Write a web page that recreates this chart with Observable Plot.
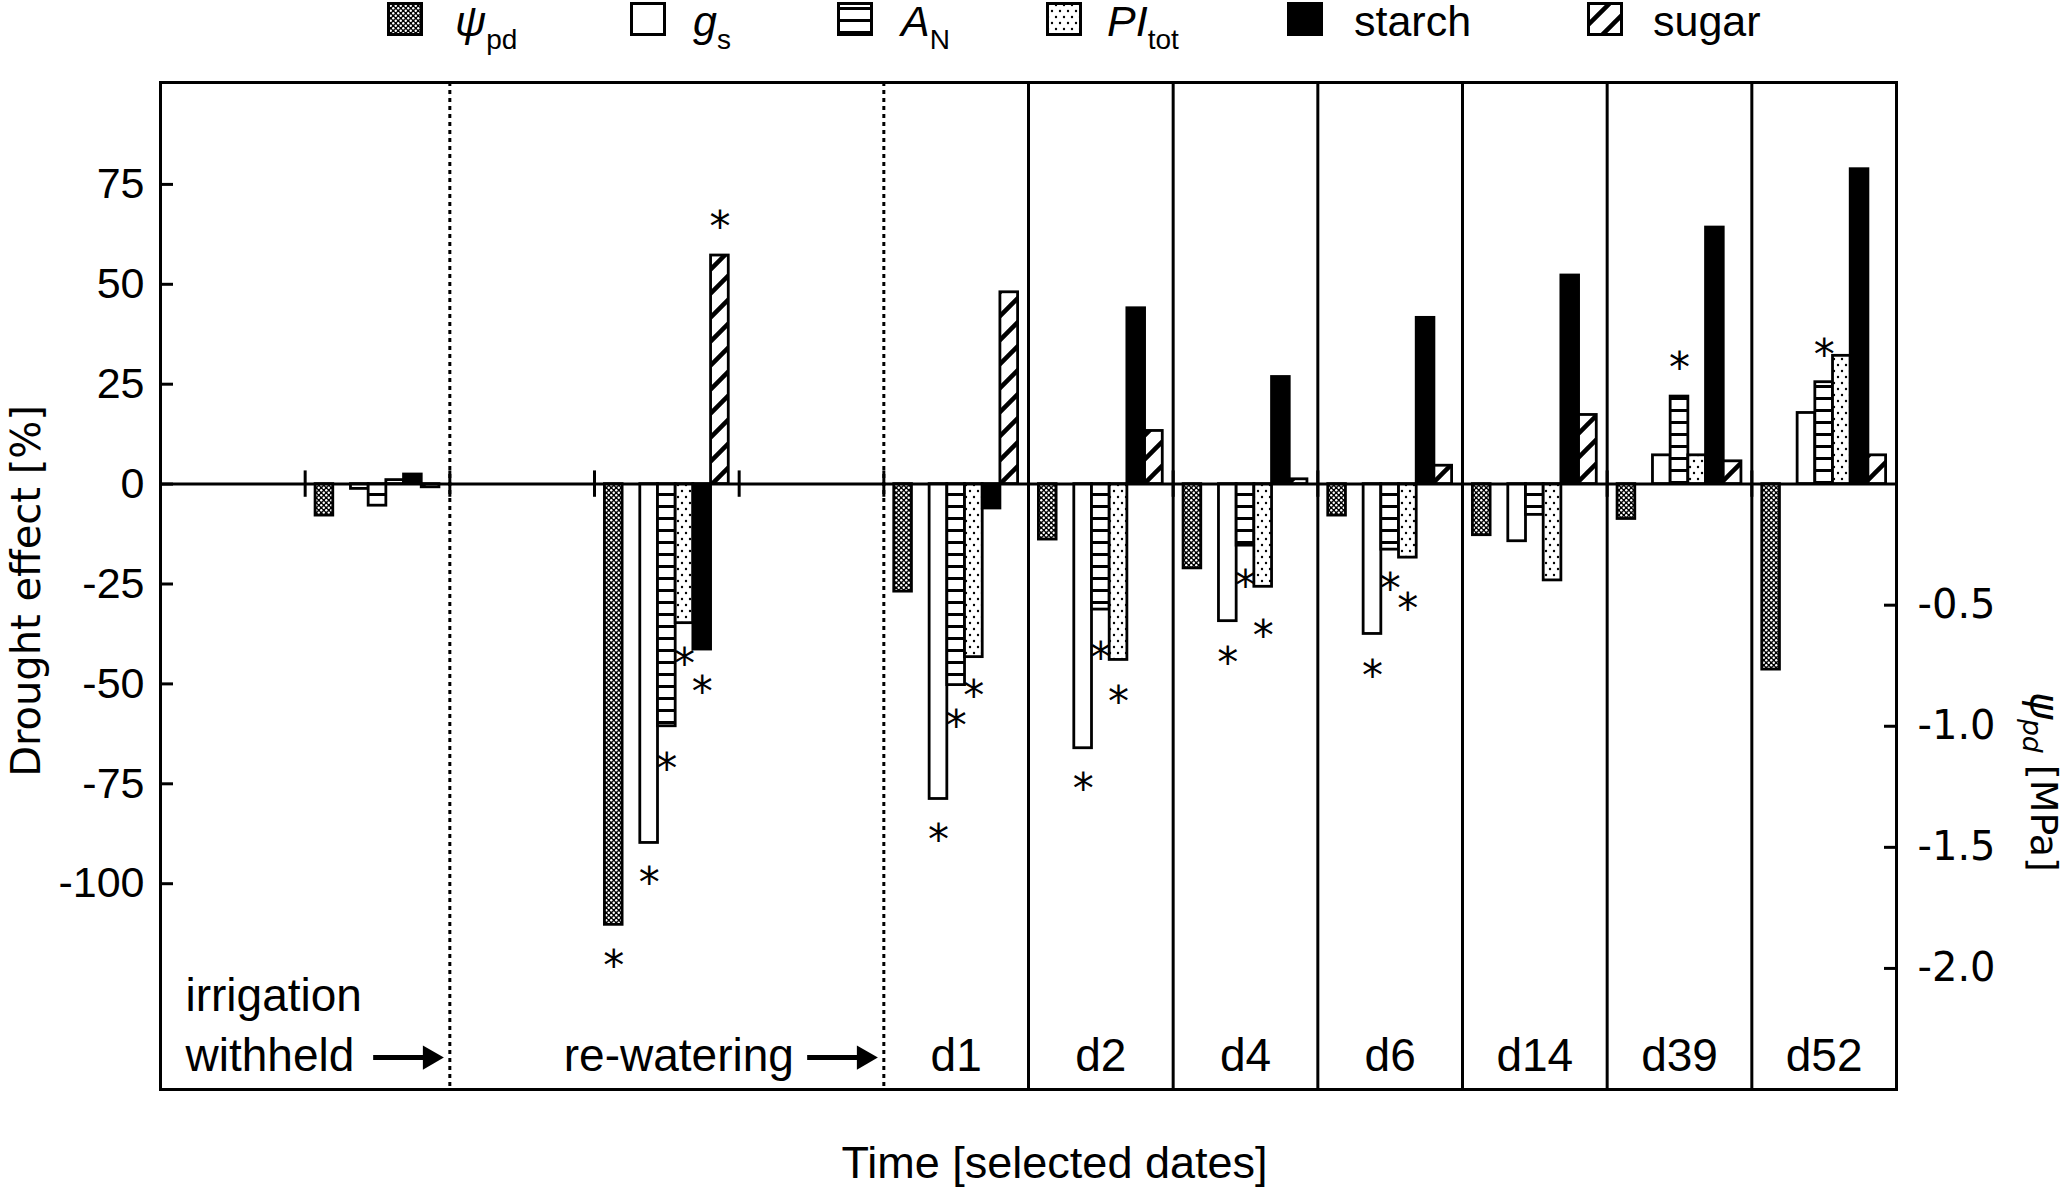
<!DOCTYPE html>
<html><head><meta charset="utf-8">
<script src="https://cdn.jsdelivr.net/npm/d3@7"></script>
<script src="https://cdn.jsdelivr.net/npm/@observablehq/plot@0.6"></script>
<style>
html,body{margin:0;padding:0;background:#fff;overflow:hidden;}
#legend{position:relative;width:2072px;height:44px;font-family:"Liberation Sans",Arial,sans-serif;font-size:43px;color:#000;}
#legend .sw{position:absolute;top:2px;}
#legend .lb{position:absolute;top:0;line-height:43px;white-space:nowrap;}
#legend .it{font-style:italic;}
#legend .sub{font-size:28px;vertical-align:-13px;font-style:normal;}
</style></head><body>
<svg width="0" height="0" style="position:absolute">
<defs>
 <pattern id="pPsi" patternUnits="userSpaceOnUse" width="5" height="5"><rect width="5" height="5" fill="#000"/><circle cx="1.25" cy="1.25" r="1.2" fill="#fff"/><circle cx="3.75" cy="3.75" r="1.2" fill="#fff"/></pattern>
 <pattern id="pAN" patternUnits="userSpaceOnUse" width="12" height="12"><rect width="12" height="12" fill="#fff"/><rect y="5" width="12" height="3" fill="#000"/></pattern>
 <pattern id="pPI" patternUnits="userSpaceOnUse" width="8" height="12"><rect width="8" height="12" fill="#fff"/><circle cx="2" cy="3" r="1.2" fill="#000"/><circle cx="6" cy="9" r="1.2" fill="#000"/></pattern>
 <pattern id="pSugar" patternUnits="userSpaceOnUse" width="24" height="24"><rect width="24" height="24" fill="#fff"/><path d="M-6,6L6,-6M0,24L24,0M18,30L30,18" stroke="#000" stroke-width="4.5"/></pattern>
</defs></svg>
<div id="legend"></div>
<div id="chart"></div>
<script>
// ---- data ----
const slots = ["", "irrigation withheld", "", "re-watering", "", "d1", "d2", "d4", "d6", "d14", "d39", "d52"];
const periods = ["irrigation withheld", "re-watering", "d1", "d2", "d4", "d6", "d14", "d39", "d52"];
const dayLabels = ["d1", "d2", "d4", "d6", "d14", "d39", "d52"];
const barOrder = ["psi", "", "gs", "AN", "PI", "starch", "sugar"];
const variables = ["psi", "gs", "AN", "PI", "starch", "sugar"];
const psiPd = [-0.13, -1.82, -0.444, -0.229, -0.348, -0.13, -0.211, -0.144, -0.766]; // MPa (right axis)
const gs = [-1.2, -89.8, -78.8, -66.1, -34.3, -37.5, -14.3, 7.2, 17.8];
const AN = [-5.4, -60.6, -50.3, -31.4, -15.4, -16.4, -7.7, 21.9, 25.5];
const PI = [1.0, -34.8, -43.3, -44.0, -25.7, -18.4, -24.1, 7.2, 32.1];
const starch = [2.4, -41.4, -6.1, 44.0, 26.8, 41.6, 52.2, 64.2, 78.8];
const sugar = [-0.8, 57.2, 48.0, 13.3, 1.2, 4.6, 17.3, 5.7, 7.2];
const starPeriod = ["re-watering","re-watering","re-watering","re-watering","re-watering","re-watering",
  "d1","d1","d1","d2","d2","d2","d4","d4","d4","d6","d6","d6","d39","d52"];
const starVar = ["psi","gs","AN","PI","starch","sugar","gs","AN","PI","gs","AN","PI","gs","AN","PI","gs","AN","PI","AN","AN"];
const starY = [-118.4, -97.8, -69.1, -42.9, -49.8, 66.5, -86.9, -58.4, -50.9, -74.2, -41.5, -52.4, -42.7, -23.5, -36, -46, -24.2, -29.1, 31.1, 34.4];
const leftTicks = [75, 50, 25, 0, -25, -50, -75, -100];
const rightTicks = [-0.5, -1.0, -1.5, -2.0];
const mpaToPct = 60.6; // right axis: 1 MPa equals 60.6 % on the left axis

// ---- helpers ----
const PAD = 0.072, BW = 0.1223;
const fills = {psi: "url(#pPsi)", gs: "#fff", AN: "url(#pAN)", PI: "url(#pPI)", starch: "#000", sugar: "url(#pSugar)"};
const series = {psi: psiPd.map(v => v * mpaToPct), gs, AN, PI, starch, sugar};
const left = (p, v) => slots.indexOf(p) + PAD + barOrder.indexOf(v) * BW;
const rows = [];
for (const v of variables) periods.forEach((p, i) => rows.push({period: p, v, value: series[v][i]}));
const stars = starY.map((y, i) => ({period: starPeriod[i], v: starVar[i], y}));

const SANS = "Liberation Sans, Arial, sans-serif";
const DJ = "DejaVu Sans, sans-serif";

const chart = Plot.plot({
  width: 2072, height: 1144,
  marginLeft: 160, marginRight: 176, marginTop: 38, marginBottom: 99,
  style: {background: "#fff", color: "#000", fontFamily: SANS},
  x: {domain: [0, 12], axis: null},
  y: {domain: [-151.5, 100.5], axis: null},
  color: {type: "identity"},
  marks: [
    Plot.ruleX([2, 5], {stroke: "#000", strokeWidth: 3, strokeDasharray: "4,4"}),
    Plot.ruleX([6, 7, 8, 9, 10, 11], {stroke: "#000", strokeWidth: 3}),
    Plot.rectY(rows, {x1: d => left(d.period, d.v), x2: d => left(d.period, d.v) + BW, y1: 0, y2: "value",
      fill: d => fills[d.v], stroke: "#000", strokeWidth: 2.8}),
    Plot.ruleY([0], {stroke: "#000", strokeWidth: 3}),
    Plot.ruleX([1, 2, 3, 4, 5, 6, 7, 8, 9, 10, 11], {y1: -3.3, y2: 3.3, stroke: "#000", strokeWidth: 3}),
    Plot.text(stars, {x: d => left(d.period, d.v) + BW / 2, y: "y", text: () => "*", fontSize: 42, fontFamily: DJ, dy: 9}),
    Plot.axisY({anchor: "left", ticks: leftTicks, tickFormat: d => String(d), tickSize: -13, tickPadding: 29,
      fontSize: 43, fontFamily: SANS, strokeWidth: 3, label: null}),
    Plot.axisY({anchor: "right", ticks: rightTicks.map(v => v * mpaToPct), tickFormat: d => (d / mpaToPct).toFixed(1),
      tickSize: -13, tickPadding: 34, fontSize: 40, fontFamily: DJ, strokeWidth: 3, label: null}),
    Plot.text(dayLabels, {x: d => slots.indexOf(d) + 0.5, frameAnchor: "bottom", lineAnchor: "bottom", dy: -19, fontSize: 46, fontFamily: SANS}),
    Plot.text(["irrigation\nwithheld"], {x: 0, frameAnchor: "bottom", lineAnchor: "bottom", textAnchor: "start", dx: 25, dy: -19, lineHeight: 1.3, fontSize: 46, fontFamily: SANS}),
    Plot.text(["re-watering"], {x: 5, frameAnchor: "bottom", lineAnchor: "bottom", textAnchor: "end", dx: -90, dy: -19, fontSize: 46, fontFamily: SANS}),
    Plot.link([2, 5], {x1: d => d - 0.53, x2: d => d - 0.13, y1: -143.5, y2: -143.5, stroke: "#000", strokeWidth: 5}),
    Plot.dot([2, 5], {x: d => d - 0.138, y: -143.5, symbol: "triangle", rotate: 90, r: 9, fill: "#000", stroke: null}),
    Plot.text(["Time [selected dates]"], {frameAnchor: "bottom", lineAnchor: "bottom", dy: 88, dx: 26, fontSize: 45, fontFamily: SANS}),
    Plot.text(["Drought effect [%]"], {frameAnchor: "left", textAnchor: "middle", rotate: -90, dx: -133, dy: 5, fontSize: 40, fontFamily: DJ}),
    Plot.text([{t: "ψpd [MPa]", y: -74.5}], {y: "y", text: "t", frameAnchor: "right", textAnchor: "middle", rotate: 90, dx: 147, fontSize: 38, fontFamily: DJ}),
    Plot.frame({stroke: "#000", strokeWidth: 3})
  ]
});
document.getElementById("chart").appendChild(chart);

// italic psi with subscript in the right-axis label
d3.select(chart).selectAll("text").filter(function () { return this.textContent === "ψpd [MPa]"; }).each(function () {
  const t = d3.select(this); t.text("");
  t.append("tspan").attr("font-style", "italic").attr("font-size", "108%").text("ψ");
  t.append("tspan").attr("font-style", "italic").attr("font-size", "70%").attr("dy", "0.3em").text("pd");
  t.append("tspan").attr("dy", "-0.21em").text(" [MPa]");
});

// ---- legend ----
const legendItems = [
  {v: "psi", sw: 387, lb: 455, html: '<span class="it">ψ</span><span class="sub">pd</span>'},
  {v: "gs", sw: 630, lb: 693, html: '<span class="it">g</span><span class="sub">s</span>'},
  {v: "AN", sw: 837, lb: 901, html: '<span class="it">A</span><span class="sub">N</span>'},
  {v: "PI", sw: 1046, lb: 1107, html: '<span class="it">PI</span><span class="sub">tot</span>'},
  {v: "starch", sw: 1287, lb: 1354, html: 'starch'},
  {v: "sugar", sw: 1587, lb: 1653, html: 'sugar'}
];
const lg = d3.select("#legend");
for (const it of legendItems) {
  const s = lg.append("svg").attr("class", "sw").attr("width", 36).attr("height", 34).style("left", it.sw + "px");
  s.append("rect").attr("x", 1.5).attr("y", 1.5).attr("width", 33).attr("height", 31)
    .attr("fill", fills[it.v]).attr("stroke", "#000").attr("stroke-width", 3);
  lg.append("div").attr("class", "lb").style("left", it.lb + "px").html(it.html);
}
</script>
</body></html>
